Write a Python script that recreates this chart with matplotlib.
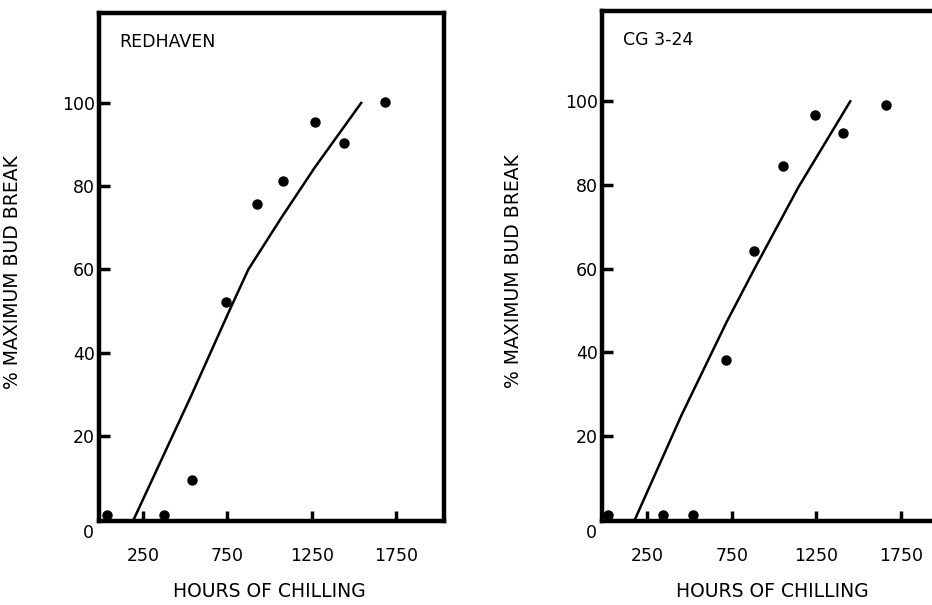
import matplotlib
matplotlib.use("Agg")
import matplotlib.pyplot as plt

# ─── Dados ────────────────────────────────────────────────────────────────────
red_horas = [37, 376, 543, 740, 927, 1081, 1270, 1439, 1687]
red_brot = [1.0, 1.0, 9.4, 52.2, 75.7, 81.3, 95.5, 90.4, 100.2]
red_curva_x = [195, 539, 756, 874, 1071, 1268, 1543]
red_curva_y = [0, 30, 49.6, 60, 72.5, 84.5, 100]

cg_horas = [19, 345, 518, 716, 883, 1055, 1239, 1408, 1663]
cg_brot = [1.0, 1.0, 1.0, 38.2, 64.2, 84.5, 96.7, 92.5, 99.1]
cg_curva_x = [177, 453, 720, 887, 1144, 1450]
cg_curva_y = [0, 25, 47.3, 60.2, 79.5, 100]

x_ticks = [250, 750, 1250, 1750]
y_ticks = [20, 40, 60, 80, 100]

paineis = [
    {"nome": "REDHAVEN", "x": red_horas, "y": red_brot, "cx": red_curva_x, "cy": red_curva_y,
     "pos": [99 / 932, 84 / 605, 345 / 932, 508 / 605], "xlim": (-11, 2034), "ylab_x": -0.223},
    {"nome": "CG 3-24", "x": cg_horas, "y": cg_brot, "cx": cg_curva_x, "cy": cg_curva_y,
     "pos": [602 / 932, 84 / 605, 345 / 932, 510 / 605], "xlim": (-18, 2022), "ylab_x": -0.229},
]

plt.rcParams["font.family"] = "DejaVu Sans"

fig = plt.figure(figsize=(9.32, 6.05), dpi=100)

for p in paineis:
    ax = fig.add_axes(p["pos"])
    ax.plot(p["cx"], p["cy"], color="black", linewidth=1.8)
    ax.plot(p["x"], p["y"], "o", color="black", markersize=6.5, clip_on=False, zorder=5)

    ax.set_xlim(*p["xlim"])
    ax.set_ylim(-0.4, 121.6)
    ax.set_xticks(x_ticks)
    ax.set_yticks(y_ticks)
    ax.tick_params(axis="x", direction="in", length=7, width=2.5, pad=19, labelsize=12.5)
    ax.tick_params(axis="y", direction="in", length=8, width=2.5, pad=3, labelsize=12.5)

    for s in ax.spines.values():
        s.set_linewidth(3.2)

    ax.annotate("0", xy=(0, 0), xycoords=("axes fraction", "data"),
                xytext=(-4, -10), textcoords="offset points",
                ha="right", va="center", fontsize=12.5)

    ax.text(0.06, 0.943, p["nome"], transform=ax.transAxes, fontsize=12.5,
            ha="left", va="center")

    ax.set_ylabel("% MAXIMUM BUD BREAK", fontsize=13.5)
    ax.yaxis.set_label_coords(p["ylab_x"], 0.49)
    ax.set_xlabel("HOURS OF CHILLING", fontsize=13.5)
    ax.xaxis.set_label_coords(0.495, -0.138)
    ax.xaxis.label.set_va("center")

fig.savefig("out.png", dpi=100)
plt.close(fig)
